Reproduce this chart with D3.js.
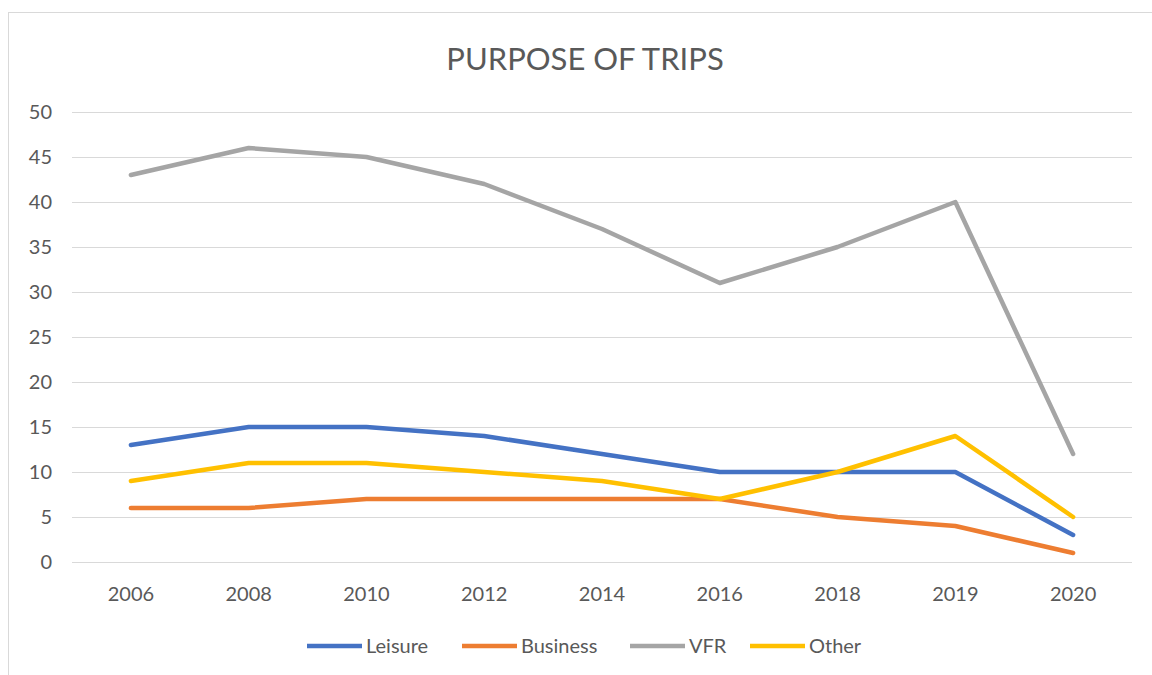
<!DOCTYPE html>
<html lang="en">
<head>
<meta charset="UTF-8">
<title>Purpose of trips</title>
<script src="https://d3js.org/d3.v7.min.js"></script>
<style>
body, html { margin: 0; padding: 0; background: #fff; }
text { font-family: Lato, "Open Sans", sans-serif; fill: #595959; }
.title { font-size: 31px; }
.axis text { font-size: 20px; }
.axis path, .axis line { display: none; }
.gridline line { stroke: #d9d9d9; stroke-width: 1px; }
.gridline path { display: none; }
.series { fill: none; stroke-width: 4.5px; stroke-linejoin: round; stroke-linecap: round; }
.legend text { font-size: 20px; }
</style>
</head>
<body>
<script>
var years = ["2006", "2008", "2010", "2012", "2014", "2016", "2018", "2019", "2020"];
var leisure = [13, 15, 15, 14, 12, 10, 10, 10, 3];
var business = [6, 6, 7, 7, 7, 7, 5, 4, 1];
var vfr = [43, 46, 45, 42, 37, 31, 35, 40, 12];
var other = [9, 11, 11, 10, 9, 7, 10, 14, 5];
var yTicks = [0, 5, 10, 15, 20, 25, 30, 35, 40, 45, 50];

var series = [
	{ name: "Leisure", values: leisure, color: "#4472C4" },
	{ name: "Business", values: business, color: "#ED7D31" },
	{ name: "VFR", values: vfr, color: "#A5A5A5" },
	{ name: "Other", values: other, color: "#FFC000" }
];

var w = 1152, h = 675;
var margin = { top: 112, bottom: 113, left: 72, right: 20 };
var width = w - margin.left - margin.right;
var height = h - margin.top - margin.bottom;

var svg = d3.select("body").append("svg")
	.attr("width", w)
	.attr("height", h);

// chart frame
svg.append("rect")
	.attr("x", 8.5).attr("y", 12.5)
	.attr("width", 1160).attr("height", 670)
	.attr("fill", "#fff")
	.attr("stroke", "#d9d9d9");

svg.append("text")
	.attr("class", "title")
	.attr("x", 585).attr("y", 70)
	.attr("text-anchor", "middle")
	.text("PURPOSE OF TRIPS");

var chart = svg.append("g")
	.attr("transform", "translate(" + margin.left + "," + margin.top + ")");

var x = d3.scaleBand().domain(years).range([0, width]);
var y = d3.scaleLinear().domain([0, 50]).range([height, 0]);

chart.append("g")
	.attr("class", "gridline")
	.call(d3.axisLeft(y).tickValues(yTicks).tickSize(-width).tickFormat(""));

chart.append("g")
	.attr("class", "axis")
	.attr("transform", "translate(-20,0)")
	.call(d3.axisLeft(y).tickValues(yTicks).tickSize(0).tickPadding(0));

chart.append("g")
	.attr("class", "axis")
	.attr("transform", "translate(0," + height + ")")
	.call(d3.axisBottom(x).tickSize(0).tickPadding(25));

var line = d3.line()
	.x(function(d, i) { return x(years[i]) + x.bandwidth() / 2; })
	.y(function(d) { return y(d); });

chart.selectAll(".series")
	.data(series)
	.enter()
	.append("path")
	.attr("class", "series")
	.attr("stroke", function(d) { return d.color; })
	.attr("d", function(d) { return line(d.values); });

// legend
var legendX = [307, 462, 630, 750];
var legend = svg.append("g").attr("class", "legend");
var items = legend.selectAll("g")
	.data(series)
	.enter()
	.append("g")
	.attr("transform", function(d, i) { return "translate(" + legendX[i] + ",646)"; });
items.append("line")
	.attr("x1", 0).attr("x2", 55)
	.attr("stroke", function(d) { return d.color; })
	.attr("stroke-width", 4.5);
items.append("text")
	.attr("x", 59).attr("y", 7)
	.text(function(d) { return d.name; });
</script>
</body>
</html>
